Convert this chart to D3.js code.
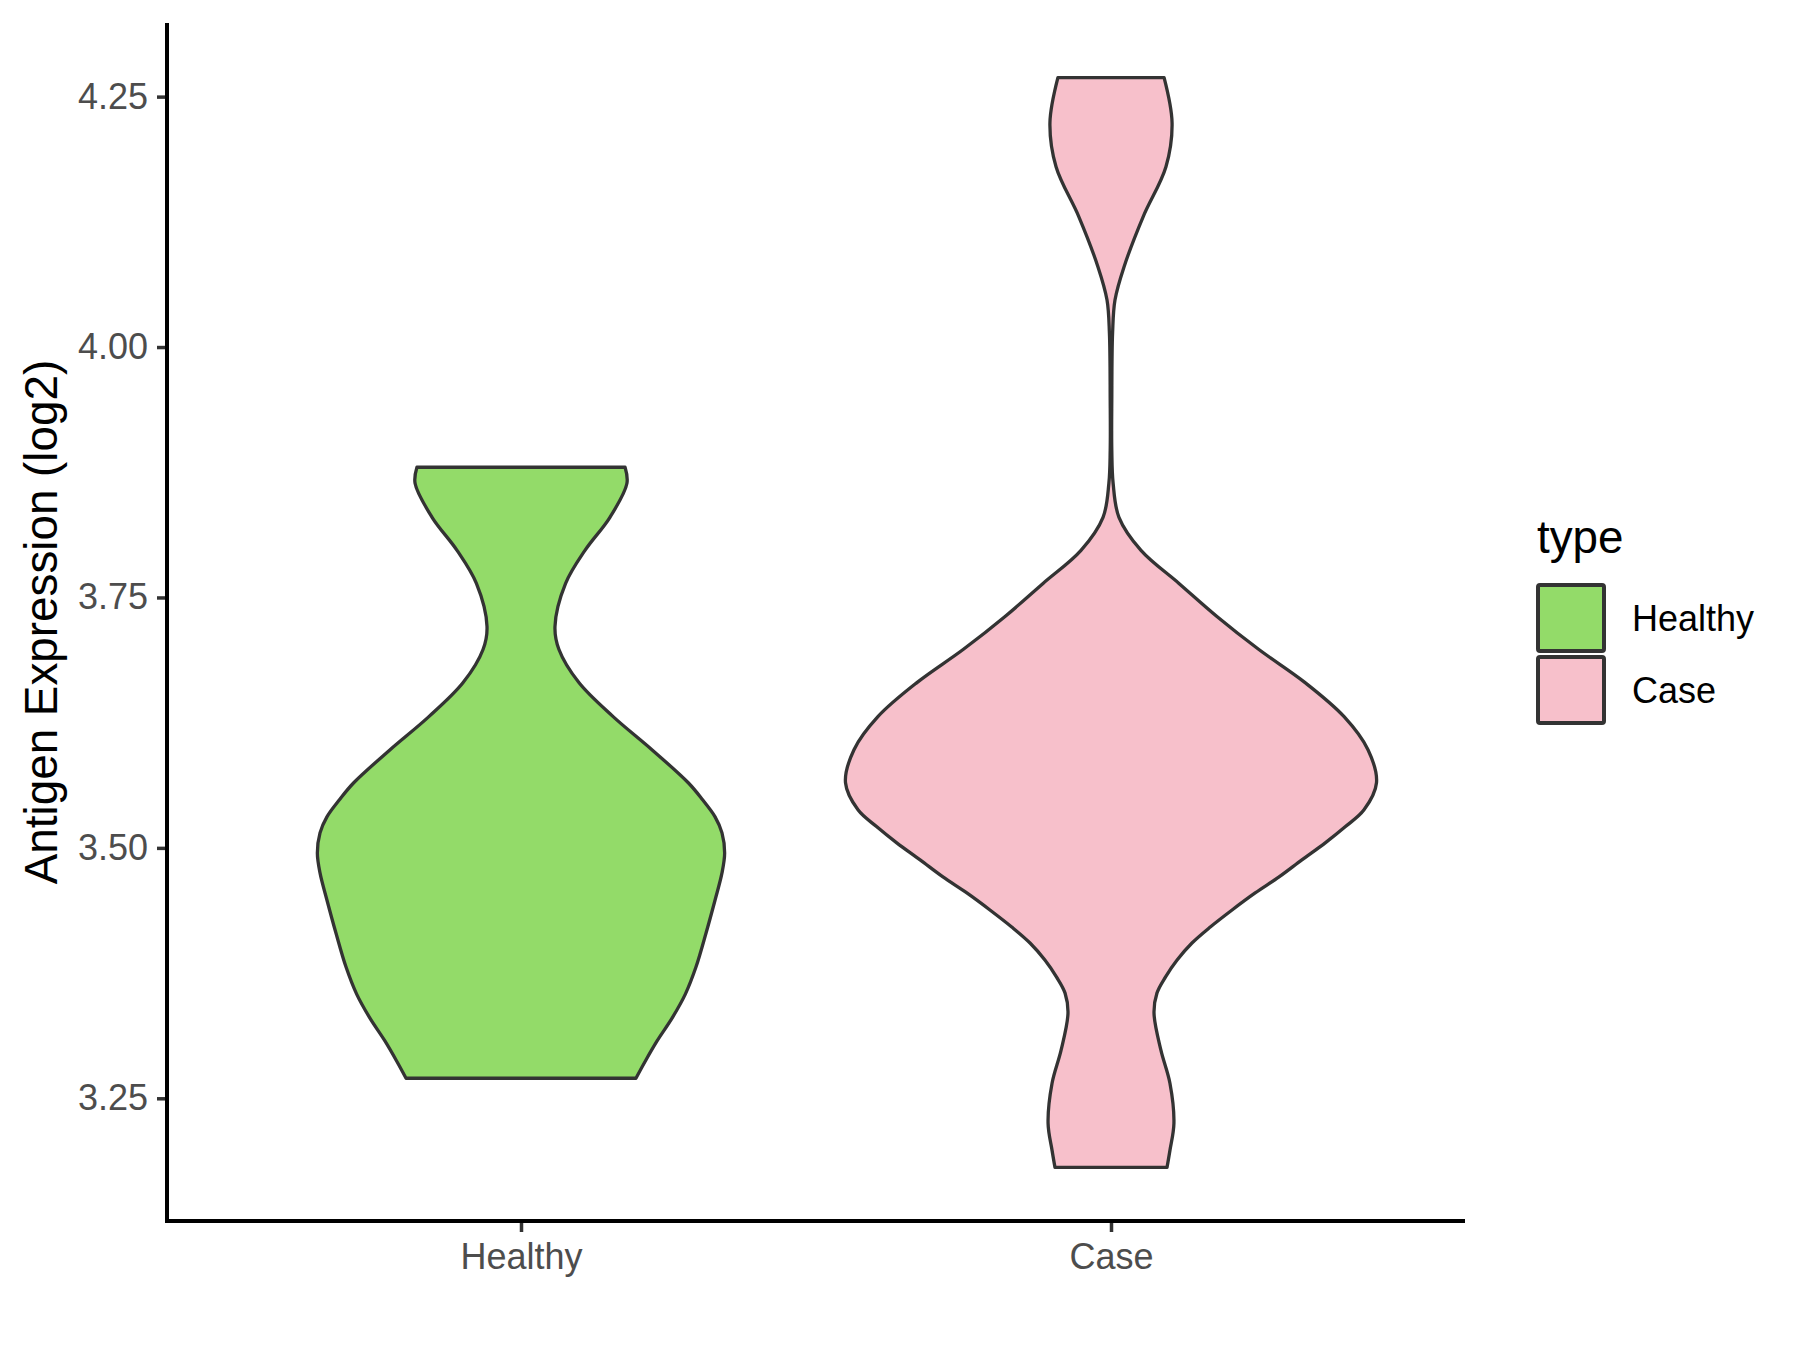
<!DOCTYPE html>
<html>
<head>
<meta charset="utf-8">
<script src="https://cdn.jsdelivr.net/npm/d3@7"></script>
<style>
  html, body { margin: 0; padding: 0; background: #ffffff; }
  svg { display: block; }
</style>
</head>
<body>
<svg id="chart" width="1800" height="1350"></svg>
<script>
// ---------------- data ----------------
const categories = ["Healthy", "Case"];
const fillColors = ["#93DB69", "#F7C0CB"];
const yTicks = [3.25, 3.50, 3.75, 4.00, 4.25];

// violin outline: value (log2) and relative half-width (1 = widest violin)
const healthyValues = [3.880, 3.864, 3.830, 3.797, 3.764, 3.721, 3.698, 3.665, 3.631, 3.598, 3.565, 3.548, 3.531, 3.515, 3.495, 3.475, 3.448, 3.415, 3.381, 3.354, 3.330, 3.307, 3.287, 3.270];
const healthyWidths = [0.392, 0.399, 0.335, 0.241, 0.168, 0.128, 0.143, 0.218, 0.347, 0.493, 0.630, 0.684, 0.731, 0.757, 0.767, 0.757, 0.731, 0.697, 0.659, 0.619, 0.569, 0.512, 0.468, 0.433];

const caseValues = [4.269, 4.224, 4.180, 4.130, 4.080, 4.047, 4.014, 3.947, 3.897, 3.864, 3.830, 3.797, 3.764, 3.731, 3.698, 3.665, 3.631, 3.598, 3.565, 3.538, 3.521, 3.505, 3.488, 3.471, 3.455, 3.438, 3.421, 3.405, 3.388, 3.371, 3.355, 3.335, 3.298, 3.265, 3.225, 3.198, 3.181];
const caseWidths  = [0.200, 0.230, 0.207, 0.121, 0.049, 0.015, 0.006, 0.003, 0.003, 0.008, 0.030, 0.113, 0.256, 0.399, 0.557, 0.731, 0.878, 0.968, 1.000, 0.953, 0.882, 0.807, 0.719, 0.633, 0.543, 0.456, 0.374, 0.305, 0.249, 0.205, 0.173, 0.162, 0.188, 0.222, 0.237, 0.222, 0.211];

const yDomain = [3.1275, 4.3235];
const yTitle = "Antigen Expression (log2)";
const legendTitle = "type";

// ---------------- layout ----------------
const panel = { left: 167, right: 1465, top: 23, bottom: 1221 };
const FONT = "'Liberation Sans', Arial, Helvetica, sans-serif";

const svg = d3.select("#chart");

const x = d3.scalePoint().domain(categories).range([panel.left, panel.right]).padding(0.6);
const y = d3.scaleLinear().domain(yDomain).range([panel.bottom, panel.top]);
const halfMax = 0.45 * x.step();

const series = [
  { name: "Healthy", values: healthyValues, widths: healthyWidths },
  { name: "Case", values: caseValues, widths: caseWidths }
];

// violins
series.forEach((s, i) => {
  const pts = s.values.map((v, k) => ({ v, w: s.widths[k] }));
  const cx = x(s.name);
  const area = d3.area()
    .y(d => y(d.v))
    .x0(d => cx - d.w * halfMax)
    .x1(d => cx + d.w * halfMax)
    .curve(d3.curveCatmullRom.alpha(0.5));
  svg.append("path")
    .attr("d", area(pts))
    .attr("fill", fillColors[i])
    .attr("stroke", "#333333")
    .attr("stroke-width", 3.3)
    .attr("stroke-linejoin", "round");
});

// y axis
const yAxis = d3.axisLeft(y).tickValues(yTicks).tickFormat(d3.format(".2f")).tickSize(10).tickPadding(9);
const gy = svg.append("g").attr("transform", `translate(${panel.left},0)`).call(yAxis);
gy.select(".domain").remove();
gy.selectAll(".tick line").attr("stroke", "#333333").attr("stroke-width", 3.5);
gy.selectAll(".tick text").attr("fill", "#4D4D4D").style("font-family", FONT).style("font-size", "36px");

// x axis
const xAxis = d3.axisBottom(x).tickSize(11).tickPadding(11);
const gx = svg.append("g").attr("transform", `translate(0,${panel.bottom})`).call(xAxis);
gx.select(".domain").remove();
gx.selectAll(".tick line").attr("stroke", "#333333").attr("stroke-width", 3.5);
gx.selectAll(".tick text").attr("fill", "#4D4D4D").style("font-family", FONT).style("font-size", "36px");

// axis lines (theme_classic)
svg.append("path")
  .attr("d", `M${panel.left},${panel.top}V${panel.bottom}H${panel.right}`)
  .attr("fill", "none").attr("stroke", "#000000").attr("stroke-width", 4)
  .attr("stroke-linecap", "butt");

// y title
svg.append("text")
  .attr("transform", `translate(57,${(panel.top + panel.bottom) / 2}) rotate(-90)`)
  .attr("text-anchor", "middle")
  .style("font-family", FONT).style("font-size", "45.8px").attr("fill", "#000000")
  .text(yTitle);

// legend
const lg = svg.append("g").attr("transform", "translate(1536,0)");
lg.append("text").attr("x", 1).attr("y", 553)
  .style("font-family", FONT).style("font-size", "45.8px").attr("fill", "#000000")
  .text(legendTitle);
categories.forEach((c, i) => {
  const y0 = 583 + i * 72;
  lg.append("rect")
    .attr("x", 2).attr("y", y0 + 2).attr("width", 66).attr("height", 66)
    .attr("rx", 2).attr("ry", 2)
    .attr("fill", fillColors[i]).attr("stroke", "#333333").attr("stroke-width", 4)
    .attr("stroke-linejoin", "round");
  lg.append("text").attr("x", 96).attr("y", y0 + 35 + 13)
    .style("font-family", FONT).style("font-size", "36px").attr("fill", "#000000")
    .text(c);
});
</script>
</body>
</html>
